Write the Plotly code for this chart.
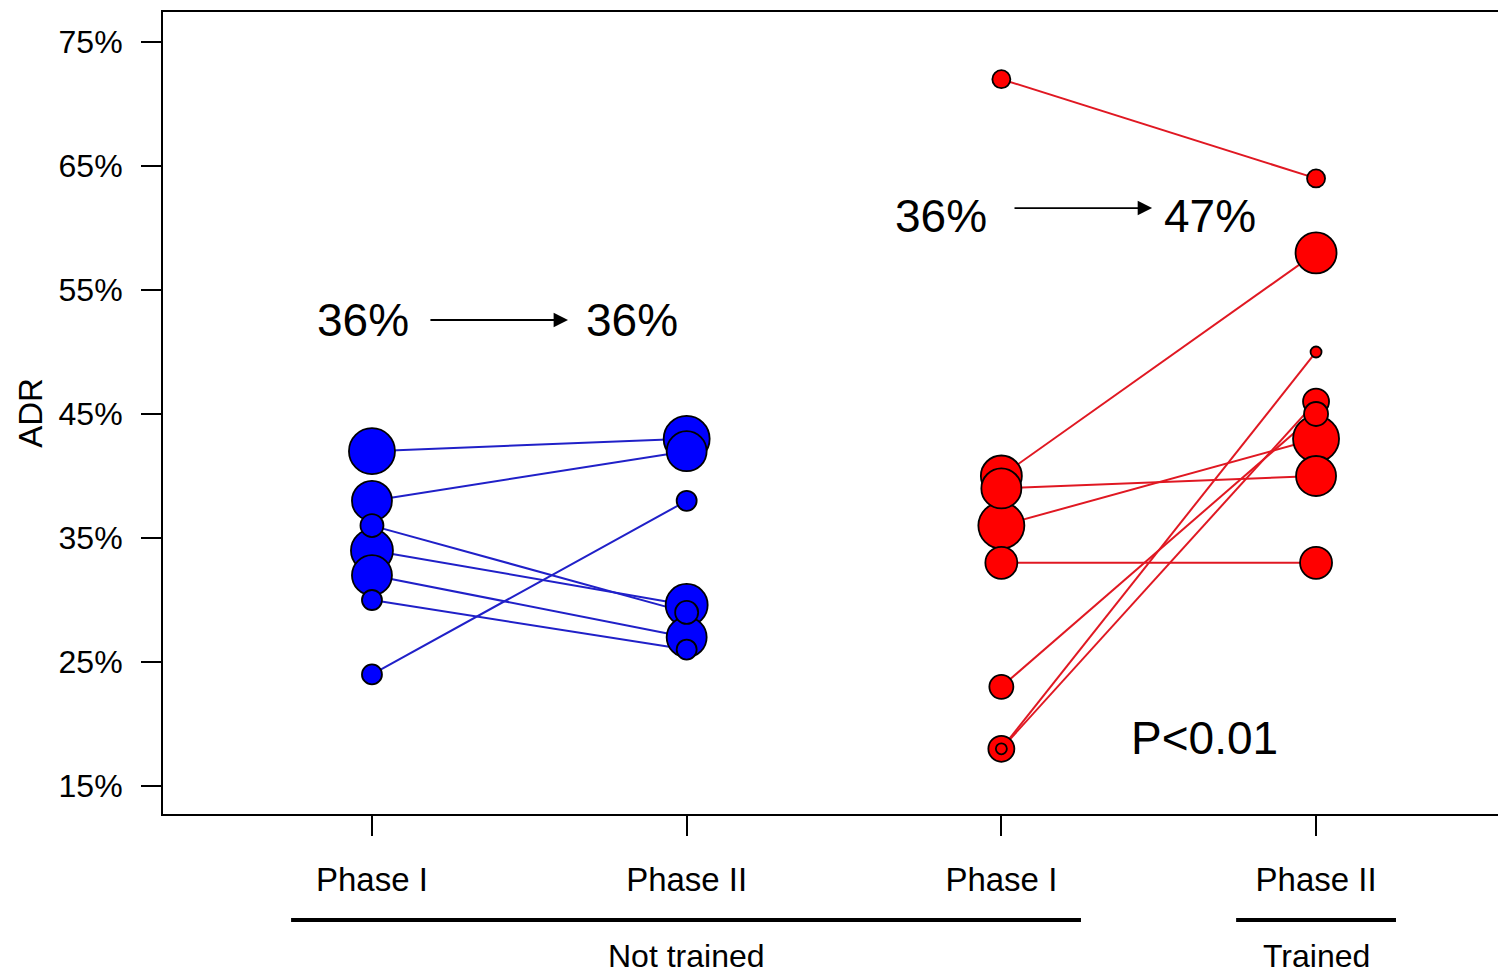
import plotly.graph_objects as go

# ---- data ----
phase_labels = ["Phase I", "Phase II", "Phase I", "Phase II"]
y_ticks = [15, 25, 35, 45, 55, 65, 75]
y_ticktext = [f"{v}%" for v in y_ticks]

# Not trained endoscopists (blue)
blue_phase1 = [42, 38, 36, 34, 32, 30, 24]
blue_phase2 = [43, 42, 29, 29.6, 27, 26, 38]
blue_weight = [23, 20, 11.5, 21, 20, 10, 10]

# Trained endoscopists (red)
red_phase1 = [72, 40, 39, 36, 33, 23, 18, 18]
red_phase2 = [64, 58, 40, 43, 33, 45, 46, 50]
red_weight = [9, 20.5, 20, 23, 16, 12, 13, 5.5]

blue_summary = ["36%", "36%"]
red_summary = ["36%", "47%"]
p_text = "P<0.01"

FONT = "Liberation Sans, Arial, sans-serif"
BLUE, BLUE_LINE = "#0000ff", "#2020c8"
RED, RED_LINE = "#ff0000", "#e01822"

fig = go.Figure()


def add_group(p1, p2, w, x1, x2, fill, linecol):
    # connecting lines
    xs, ys = [], []
    for a, b in zip(p1, p2):
        xs += [x1, x2, None]
        ys += [a, b, None]
    fig.add_trace(go.Scatter(x=xs, y=ys, mode="lines",
                             line=dict(color=linecol, width=2),
                             hoverinfo="skip", showlegend=False))
    # bubbles, larger first so smaller ones sit on top
    pts = [(x1, a, wt) for a, wt in zip(p1, w)] + [(x2, b, wt) for b, wt in zip(p2, w)]
    pts.sort(key=lambda t: -t[2])
    fig.add_trace(go.Scatter(
        x=[p[0] for p in pts], y=[p[1] for p in pts], mode="markers",
        marker=dict(size=[p[2] for p in pts], sizemode="diameter", sizeref=0.5,
                    color=fill, line=dict(color="black", width=1.8), opacity=1),
        showlegend=False))


add_group(blue_phase1, blue_phase2, blue_weight, 1, 2, BLUE, BLUE_LINE)
add_group(red_phase1, red_phase2, red_weight, 3, 4, RED, RED_LINE)

annotations = []
big = dict(family=FONT, size=46, color="black")
# summary texts
annotations.append(dict(x=0.971, y=52.56, xref="x", yref="y", text=blue_summary[0],
                        showarrow=False, font=big))
annotations.append(dict(x=1.826, y=52.56, xref="x", yref="y", text=blue_summary[1],
                        showarrow=False, font=big))
annotations.append(dict(x=2.808, y=60.96, xref="x", yref="y", text=red_summary[0],
                        showarrow=False, font=big))
annotations.append(dict(x=3.663, y=60.96, xref="x", yref="y", text=red_summary[1],
                        showarrow=False, font=big))
annotations.append(dict(x=3.647, y=18.86, xref="x", yref="y", text=p_text,
                        showarrow=False, font=big))
# arrows
for (xs, xe, yy) in [(1.181, 1.623, 52.58), (3.037, 3.479, 61.61)]:
    annotations.append(dict(x=xe, y=yy, ax=xs, ay=yy, xref="x", yref="y",
                            axref="x", ayref="y", text="", showarrow=True,
                            arrowhead=2, arrowsize=1.6, arrowwidth=1.8,
                            arrowcolor="black"))
# group labels
mid = dict(family=FONT, size=32, color="black")
annotations.append(dict(x=2, y=-0.1770, xref="x", yref="paper", text="Not trained",
                        showarrow=False, font=mid, yanchor="middle"))
annotations.append(dict(x=4, y=-0.1770, xref="x", yref="paper", text="Trained",
                        showarrow=False, font=mid, yanchor="middle"))

shapes = [
    dict(type="line", xref="x", yref="paper", x0=0.743, x1=3.253, y0=-0.1322, y1=-0.1322,
         line=dict(color="black", width=4)),
    dict(type="line", xref="x", yref="paper", x0=3.746, x1=4.254, y0=-0.1322, y1=-0.1322,
         line=dict(color="black", width=4)),
]

fig.update_layout(
    width=1506, height=974,
    margin=dict(l=155, r=0, t=4, b=168),
    plot_bgcolor="white", paper_bgcolor="white",
    annotations=annotations, shapes=shapes,
    font=dict(family=FONT, color="black"),
    xaxis=dict(range=[0.336, 4.629], tickvals=[1, 2, 3, 4], ticktext=phase_labels,
               ticks="outside", ticklen=20, tickwidth=1.5, tickcolor="black",
               tickfont=dict(family=FONT, size=33), ticklabelstandoff=15,
               showline=True, linecolor="black", linewidth=2, mirror=True,
               showgrid=False, zeroline=False),
    yaxis=dict(range=[12.74, 77.42], tickvals=y_ticks, ticktext=y_ticktext,
               ticks="outside", ticklen=20, tickwidth=1.5, tickcolor="black",
               tickfont=dict(family=FONT, size=32), ticklabelstandoff=12,
               showline=True, linecolor="black", linewidth=2, mirror=False,
               showgrid=False, zeroline=False,
               title=dict(text="ADR", font=dict(family=FONT, size=33), standoff=6)),
)

fig.write_html("out.html")
